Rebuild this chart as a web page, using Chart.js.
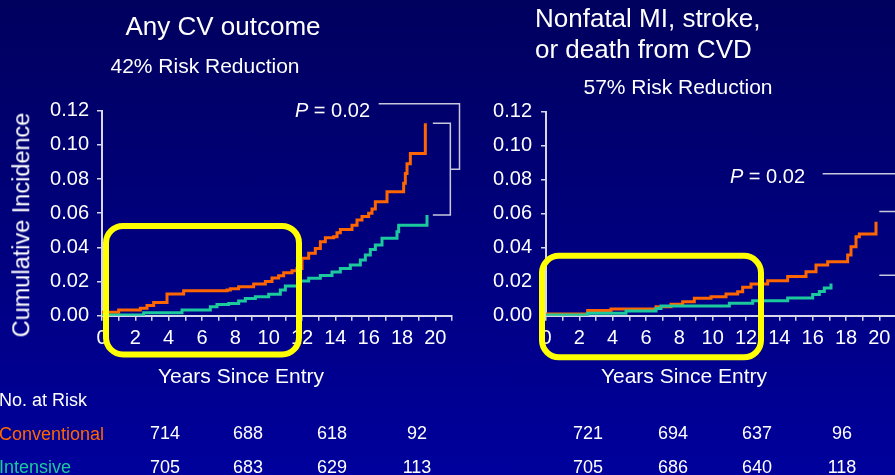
<!DOCTYPE html>
<html>
<head>
<meta charset="utf-8">
<script src="https://cdn.jsdelivr.net/npm/chart.js@4.4.1/dist/chart.umd.min.js"></script>
<style>
  body { margin: 0; width: 895px; height: 475px; overflow: hidden; position: relative;
         background: linear-gradient(#00005e, #00009c);
         font-family: "Liberation Sans", Arial, sans-serif; color: #fff; }
  canvas { position: absolute; top: 0; }
  .t { position: absolute; white-space: nowrap; line-height: 1; }
  .c { transform: translateX(-50%); }
  .r { transform: translateX(-100%); }
</style>
</head>
<body>
<canvas id="cvChart" width="470" height="475" style="left:0"></canvas>
<canvas id="miChart" width="445" height="475" style="left:470px"></canvas>

<div class="t c" style="left:223px;top:13px;font-size:26px">Any CV outcome</div>
<div class="t c" style="left:205px;top:55px;font-size:21px">42% Risk Reduction</div>
<div class="t" style="left:535px;top:5px;font-size:26px">Nonfatal MI, stroke,</div>
<div class="t" style="left:535px;top:36px;font-size:26px">or death from CVD</div>
<div class="t c" style="left:678px;top:76px;font-size:21px">57% Risk Reduction</div>

<div class="t" style="left:22px;top:225px;font-size:23.5px;transform:translate(-50%,-50%) rotate(-90deg)">Cumulative Incidence</div>
<div class="t c" style="left:241px;top:365px;font-size:21px">Years Since Entry</div>
<div class="t c" style="left:684px;top:365px;font-size:21px">Years Since Entry</div>

<div class="t r" style="left:370px;top:100px;font-size:20px"><i>P</i> = 0.02</div>
<div class="t r" style="left:805px;top:166px;font-size:20px"><i>P</i> = 0.02</div>

<div class="t" style="left:-1px;top:391px;font-size:18px">No. at Risk</div>
<div class="t" style="left:-1px;top:425px;font-size:18px;color:#ff6600">Conventional</div>
<div class="t" style="left:-1px;top:458px;font-size:18px;color:#1cc99c">Intensive</div>
<div id="riskTable"></div>

<script>
// Any CV outcome - cumulative incidence by years since entry
const cvConvYears = [0, 1.0, 2.3, 2.7, 3.1, 3.9, 4.9, 7.5, 7.7, 8.2, 9.1, 9.8, 10.2, 10.6, 10.9, 11.4, 11.7, 12.0, 12.4, 12.8, 13.1, 13.4, 13.9, 14.1, 14.3, 15.0, 15.3, 15.6, 16.0, 16.2, 16.4, 17.1, 18.1, 18.2, 18.3, 18.5, 19.4];
const cvConvRisk  = [0.002, 0.0033, 0.0043, 0.006, 0.0078, 0.0127, 0.0146, 0.015, 0.0158, 0.017, 0.0185, 0.020, 0.022, 0.0234, 0.0252, 0.0263, 0.0277, 0.0336, 0.0365, 0.0394, 0.0433, 0.0457, 0.0462, 0.0486, 0.0505, 0.053, 0.056, 0.058, 0.060, 0.0624, 0.0667, 0.0726, 0.0775, 0.0833, 0.089, 0.095, 0.1126];
const cvIntYears  = [0, 2.5, 4.8, 6.5, 6.9, 7.6, 8.2, 8.6, 9.2, 10.0, 10.7, 11.0, 11.9, 12.4, 13.1, 13.8, 14.3, 14.9, 15.5, 15.8, 16.1, 16.4, 16.8, 17.7, 17.8, 19.5];
const cvIntRisk   = [0.0004, 0.0018, 0.0033, 0.0053, 0.0066, 0.0072, 0.0086, 0.0101, 0.0111, 0.0125, 0.015, 0.0174, 0.0203, 0.0219, 0.0236, 0.0256, 0.0277, 0.0297, 0.0326, 0.0355, 0.0388, 0.0414, 0.0453, 0.0492, 0.053, 0.059];

// Nonfatal MI, stroke or death from CVD
const miConvYears = [0, 2.5, 3.9, 6.6, 7.5, 8.2, 8.9, 9.9, 10.8, 11.5, 11.8, 12.3, 13.3, 14.5, 15.6, 16.2, 16.9, 18.1, 18.3, 18.6, 18.8, 19.8];
const miConvRisk  = [0.001, 0.003, 0.004, 0.0053, 0.0067, 0.0082, 0.0102, 0.0112, 0.0127, 0.0141, 0.0167, 0.0186, 0.0206, 0.023, 0.0259, 0.0298, 0.0318, 0.0357, 0.0406, 0.0465, 0.048, 0.0553];
const miIntYears  = [0, 2.5, 4.8, 6.6, 6.9, 11.0, 12.4, 14.5, 16.0, 16.4, 16.7, 17.1];
const miIntRisk   = [0.0004, 0.0014, 0.0027, 0.0043, 0.0057, 0.0073, 0.0088, 0.0104, 0.0124, 0.0143, 0.0163, 0.019];

// No. at risk
const cvAtRiskConv = [714, 688, 618, 92];
const cvAtRiskInt  = [705, 683, 629, 113];
const miAtRiskConv = [721, 694, 637, 96];
const miAtRiskInt  = [705, 686, 640, 118];

const yTicks = [0, 0.02, 0.04, 0.06, 0.08, 0.10, 0.12];
const xTickLabels = ['0', '2', '4', '6', '8', '10', '12', '14', '16', '18', '20'];

const orange = '#ff6600';
const green = '#1cc99c';
const axisColor = '#d6d6ec';

Chart.defaults.font.family = '"Liberation Sans", Arial, sans-serif';
Chart.defaults.color = '#ffffff';

// number at risk table
const tableCols = { cv: [165, 248, 332, 417], mi: [588, 673, 757, 842] };
function riskRow(values, cols, top) {
    values.forEach((v, i) => {
        const d = document.createElement('div');
        d.className = 't c';
        d.style.cssText = `left:${cols[i]}px;top:${top}px;font-size:18px`;
        d.textContent = v;
        document.getElementById('riskTable').appendChild(d);
    });
}
riskRow(cvAtRiskConv, tableCols.cv, 424);
riskRow(cvAtRiskInt, tableCols.cv, 458);
riskRow(miAtRiskConv, tableCols.mi, 424);
riskRow(miAtRiskInt, tableCols.mi, 458);

function toPoints(years, risk) {
    return years.map((x, i) => ({ x: x, y: risk[i] }));
}

// yellow box + P value brackets, in data units
const slidePlugin = {
    id: 'slide',
    afterDraw(chart, args, opts) {
        const ctx = chart.ctx;
        const x = chart.scales.x, y = chart.scales.y;
        ctx.save();
        ctx.strokeStyle = '#c8c8dc';
        ctx.lineWidth = 1.5;
        (opts.lines || []).forEach(seg => {
            ctx.beginPath();
            seg.forEach(([vx, vy], i) => {
                const px = x.getPixelForValue(vx), py = y.getPixelForValue(vy);
                if (i) ctx.lineTo(px, py); else ctx.moveTo(px, py);
            });
            ctx.stroke();
        });
        const b = opts.box;
        if (b) {
            const l = x.getPixelForValue(b.x0), r = x.getPixelForValue(b.x1);
            const t = y.getPixelForValue(b.y1), bt = y.getPixelForValue(b.y0);
            ctx.strokeStyle = '#ffff00';
            ctx.lineWidth = 6;
            ctx.beginPath();
            ctx.roundRect(l, t, r - l, bt - t, 17);
            ctx.stroke();
        }
        ctx.restore();
    }
};

function makeChart(id, conv, int, top, yWidth, rightPad, labelPad, slide) {
    return new Chart(document.getElementById(id), {
        type: 'line',
        data: {
            datasets: [
                { label: 'Conventional', data: conv, borderColor: orange, order: 1 },
                { label: 'Intensive', data: int, borderColor: green, order: 0 }
            ]
        },
        options: {
            responsive: false,
            devicePixelRatio: 1,
            animation: false,
            layout: { padding: { top: top, left: 0, right: rightPad, bottom: 475 - 315.7 - 30 } },
            elements: {
                line: { borderWidth: 3, stepped: true, tension: 0, fill: false },
                point: { radius: 0 }
            },
            scales: {
                x: {
                    type: 'linear', min: 0, max: 21,
                    afterFit: s => { s.height = 30; },
                    border: { color: axisColor, width: 2 },
                    grid: { drawOnChartArea: false, drawTicks: true, tickLength: 5, color: axisColor, lineWidth: 1.5 },
                    ticks: {
                        stepSize: 1, autoSkip: false, maxRotation: 0, padding: 6,
                        color: '#fff', font: { size: 20 },
                        callback: v => (v % 2 === 0 ? xTickLabels[v / 2] || '' : '')
                    }
                },
                y: {
                    type: 'linear', min: 0, max: 0.12,
                    afterFit: s => { s.width = yWidth; },
                    afterBuildTicks: s => { s.ticks = yTicks.map(v => ({ value: v })); },
                    border: { color: axisColor, width: 2 },
                    grid: { drawOnChartArea: false, drawTicks: true, tickLength: 5, color: axisColor, lineWidth: 1.5 },
                    ticks: {
                        padding: labelPad, color: '#fff', font: { size: 20 },
                        callback: v => v.toFixed(2)
                    }
                }
            },
            plugins: {
                legend: { display: false },
                tooltip: { enabled: false },
                slide: slide
            }
        },
        plugins: [slidePlugin]
    });
}

// left panel
const cvEndConv = cvConvRisk[cvConvRisk.length - 1];
const cvEndInt = cvIntRisk[cvIntRisk.length - 1];
const cvMid = (cvEndConv + cvEndInt) / 2;
makeChart('cvChart', toPoints(cvConvYears, cvConvRisk), toPoints(cvIntYears, cvIntRisk), 110.7, 102, 18, 8, {
    box: { x0: 0.24, x1: 11.82, y0: -0.0227, y1: 0.0525 },
    lines: [
        [[19.85, cvEndConv], [20.9, cvEndConv], [20.9, cvEndInt], [19.85, cvEndInt]],
        [[20.9, cvMid], [21.45, cvMid], [21.45, 0.124], [16.6, 0.124]]
    ]
});

// right panel
makeChart('miChart', toPoints(miConvYears, miConvRisk), toPoints(miIntYears, miIntRisk), 111.7, 76, 19, 9, {
    box: { x0: -0.24, x1: 12.9, y0: -0.0245, y1: 0.0352 },
    lines: [
        [[16.6, 0.0835], [22, 0.0835]],
        [[20, 0.0613], [22, 0.0613]],
        [[20, 0.0238], [22, 0.0238]]
    ]
});
</script>
</body>
</html>
